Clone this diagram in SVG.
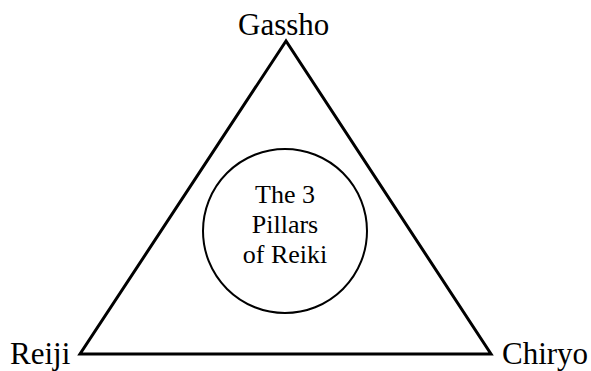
<svg xmlns="http://www.w3.org/2000/svg" width="591" height="371" viewBox="0 0 591 371">
<style>
text{font-family:"Liberation Serif","Times New Roman",serif;fill:#000}
.lbl{font-size:31px}
.ctr{font-size:26px;text-anchor:middle}
</style>
<rect width="591" height="371" fill="#fff"/>
<g id="connectors">
<polygon points="286,41 80,354 491,354" fill="none" stroke="#000" stroke-width="3" stroke-linejoin="miter"/>
</g>
<g id="center">
<circle cx="285" cy="231" r="82" fill="none" stroke="#000" stroke-width="2"/>
<text class="ctr" x="285" y="203">The 3</text>
<text class="ctr" x="285" y="233">Pillars</text>
<text class="ctr" x="285" y="263">of Reiki</text>
</g>
<g id="gassho"><text class="lbl" x="238" y="35">Gassho</text></g>
<g id="reiji"><text class="lbl" x="10" y="364">Reiji</text></g>
<g id="chiryo"><text class="lbl" x="502" y="364">Chiryo</text></g>
</svg>
